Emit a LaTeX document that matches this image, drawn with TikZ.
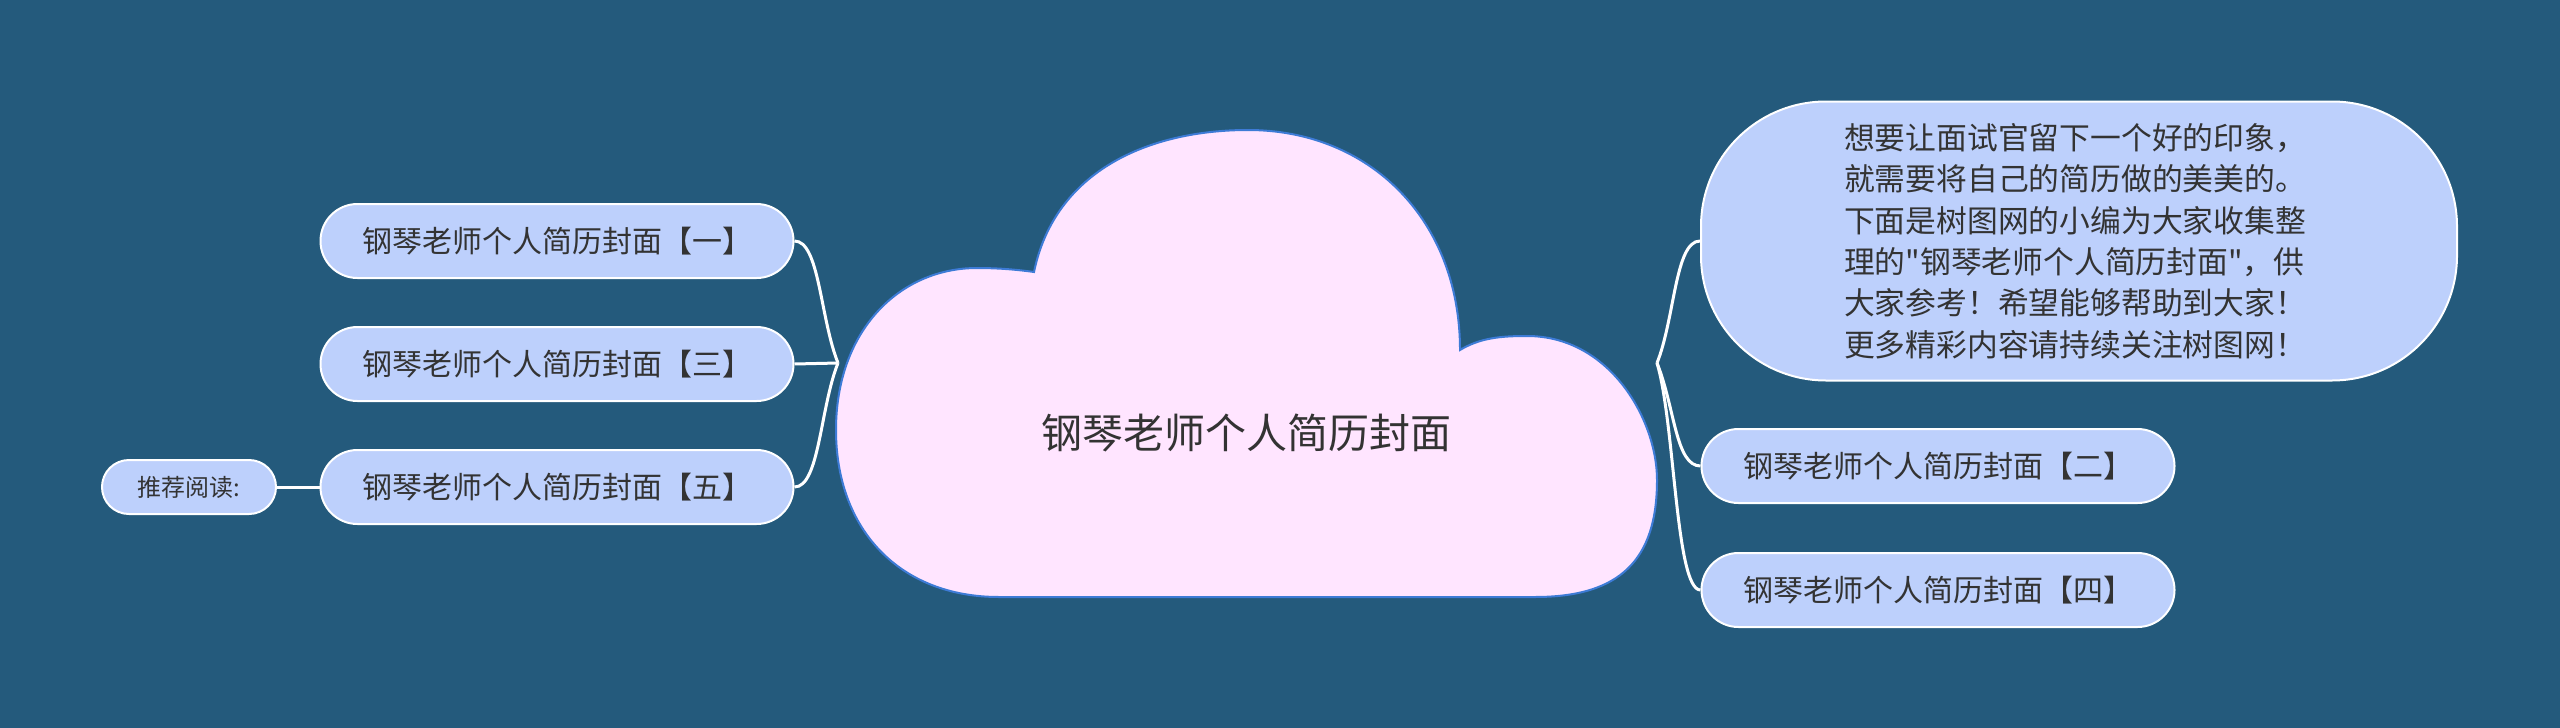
\documentclass[tikz,border=0pt]{standalone}
\usepackage{fontspec}
\setmainfont{Noto Sans CJK SC}
\newfontfamily\cjkplain{Noto Sans CJK SC}
\usetikzlibrary{calc}
\definecolor{bg}{HTML}{245A7C}
\definecolor{cloudfill}{HTML}{FFE5FF}
\definecolor{cloudline}{HTML}{3D7BD6}
\definecolor{nodefill}{HTML}{BDD0FC}
\definecolor{txt}{HTML}{333333}
\begin{document}
\begin{tikzpicture}[x=1pt,y=-1pt,
  topic/.style={draw=white, line width=2pt, fill=nodefill, rounded corners=37pt,
    minimum width=473pt, minimum height=74pt, inner sep=0pt, text=txt,
    font=\fontsize{30}{36}\selectfont},
  bubble/.style={draw=white, line width=2pt, fill=nodefill, rounded corners=125pt,
    minimum width=756pt, minimum height=279pt, inner xsep=143pt, inner ysep=0pt,
    text=txt, align=left, text width=470pt,
    font=\cjkplain\fontsize{30.8}{41.4}\selectfont},
  small/.style={draw=white, line width=2pt, fill=nodefill, rounded corners=27pt,
    minimum width=174pt, minimum height=54pt, inner sep=0pt, text=txt,
    font=\fontsize{24}{28}\selectfont},
  conn/.style={draw=white, line width=3pt},
  cloudshape/.style={fill=cloudfill, draw=cloudline, line width=2pt}]
\useasboundingbox (0,0) rectangle (2560,728);
\fill[bg] (0,0) rectangle (2560,728);
% cloud
\path[cloudshape] (1034,272) .. controls (1055,170) and (1150,130) .. (1248,130)
  .. controls (1370,130) and (1460,220) .. (1460,350)
  .. controls (1480,338) and (1500,336) .. (1527,336)
  .. controls (1610,336) and (1657,420) .. (1657,480)
  .. controls (1657,560) and (1620,597) .. (1535,597)
  -- (999,597)
  .. controls (900,597) and (836,530) .. (836,430)
  .. controls (836,330) and (900,268) .. (977,268)
  .. controls (1000,268) and (1020,270) .. (1034,272) -- cycle;
\node[text=txt, font=\fontsize{41}{48}\selectfont] (root) at (1246,433) {钢琴老师个人简历封面};
% left nodes
\node[topic] (n1) at (557,241) {钢琴老师个人简历封面【一】};
\node[topic] (n3) at (557,364) {钢琴老师个人简历封面【三】};
\node[topic] (n5) at (557,487) {钢琴老师个人简历封面【五】};
\node[small] (rec) at (189,487) {推荐阅读:};
% right nodes
\node[bubble] (b) at (2079,241) {想要让面试官留下一个好的印象，\\就需要将自己的简历做的美美的。\\下面是树图网的小编为大家收集整\\理的"钢琴老师个人简历封面"，供\\大家参考！希望能够帮助到大家！\\更多精彩内容请持续关注树图网！};
\node[topic] (n2) at (1938,466) {钢琴老师个人简历封面【二】};
\node[topic] (n4) at (1938,590) {钢琴老师个人简历封面【四】};
% connectors
\coordinate (jl) at (838,363);
\coordinate (jr) at (1657,363);
\draw[conn] (n1.east) .. controls ($(n1.east)+(25,0)$) and ($(jl)+(-18,-45)$) .. (jl);
\draw[conn] (n3.east) -- (jl);
\draw[conn] (n5.east) .. controls ($(n5.east)+(25,0)$) and ($(jl)+(-18,45)$) .. (jl);
\draw[conn] (rec.east) -- (n5.west);
\draw[conn] (jr) .. controls ($(jr)+(18,-45)$) and ($(b.west)+(-25,0)$) .. (b.west);
\draw[conn] (jr) .. controls ($(jr)+(18,45)$) and ($(n2.west)+(-25,0)$) .. (n2.west);
\draw[conn] (jr) .. controls ($(jr)+(18,60)$) and ($(n4.west)+(-25,0)$) .. (n4.west);
\end{tikzpicture}
\end{document}
